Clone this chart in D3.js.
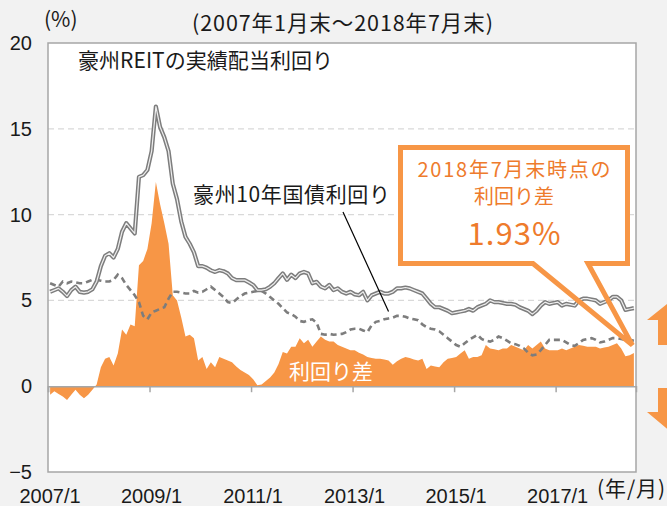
<!DOCTYPE html>
<html>
<head>
<meta charset="utf-8">
<script src="https://cdn.jsdelivr.net/npm/d3@7"></script>
<style>
  html, body { margin: 0; padding: 0; background: #f2f2f2; }
  svg { display: block; }
  .jp { font-family: "Noto Sans CJK JP", "Noto Sans", sans-serif; }
  .num { font-family: "Liberation Sans", Arial, sans-serif; }
</style>
</head>
<body>
<svg width="667" height="506"></svg>
<script>
// Monthly data, 2007/1 .. 2018/7 (month-end), in %
var nMonths = 139;

// Australian REIT realised dividend yield
var reitYield = [
  5.5, 5.6, 5.7, 5.5, 5.25, 5.6, 5.8, 5.5, 5.45, 5.5, 5.65, 6.1,
  7.0, 7.6, 7.75, 7.5, 8.0, 9.0, 9.5, 9.2, 8.9, 12.2, 12.3, 12.6,
  13.7, 16.3, 15.1, 14.5, 13.7, 11.8, 10.9, 9.6, 8.7, 8.3, 7.8, 7.0,
  7.0, 6.9, 6.75, 6.66, 6.76, 6.7, 6.57, 6.3, 6.18, 6.18, 6.18, 6.05,
  5.9, 5.6, 5.6, 5.65, 5.8, 6.0, 6.3, 6.57, 6.2, 6.5, 6.3, 6.57,
  6.66, 6.57, 6.0, 6.08, 5.8, 5.7, 5.9, 5.6, 5.7, 5.5, 5.4, 5.5,
  5.35, 5.3, 5.5, 5.0, 5.3, 5.4, 5.5, 5.4, 5.4, 5.5, 5.7, 5.7,
  5.75, 5.7, 5.6, 5.5, 5.4, 5.1, 4.8, 4.6, 4.6, 4.5, 4.4, 4.25,
  4.3, 4.35, 4.4, 4.5, 4.4, 4.6, 4.7, 4.8, 5.0, 4.9, 4.9, 4.85,
  4.8, 4.8, 4.75, 4.6, 4.5, 4.4, 4.2, 4.4, 4.7, 4.9, 4.8, 4.85,
  4.9, 4.7, 4.8, 4.75, 4.7, 5.0, 5.1, 5.1, 5.05, 5.0, 4.8, 4.9,
  5.0, 5.2, 5.2, 5.0, 4.45, 4.5, 4.55
];

// Australian 10-year government bond yield
var bondYield = [
  6.0, 5.9, 5.8, 6.1, 6.0, 6.1, 6.05, 6.0, 6.0, 6.1, 6.2, 6.2,
  6.15, 6.1, 6.1, 6.2, 6.5, 6.3, 5.9, 5.6, 5.3, 4.9, 4.1, 3.9,
  4.3, 4.4, 4.5, 4.6, 5.1, 5.5, 5.5, 5.45, 5.4, 5.4, 5.55, 5.45,
  5.5, 5.65, 5.8, 5.6, 5.4, 5.2, 4.9, 4.85, 5.05, 5.25, 5.4, 5.45,
  5.5, 5.55, 5.55, 5.4, 5.2, 5.0, 4.8, 4.55, 4.3, 4.2, 4.05, 3.8,
  3.75, 3.85, 3.9, 3.7, 3.05, 3.0, 3.05, 3.0, 3.02, 3.05, 3.15, 3.3,
  3.35, 3.35, 3.25, 3.15, 3.55, 3.75, 3.8, 3.9, 3.95, 4.0, 4.1, 4.1,
  4.05, 3.95, 3.9, 3.85, 3.6, 3.45, 3.35, 3.3, 3.2, 3.0, 2.8, 2.6,
  2.4, 2.3, 2.5, 2.7, 2.85, 3.0, 2.75, 2.65, 2.6, 2.7, 2.9, 2.8,
  2.65, 2.5, 2.45, 2.35, 2.2, 1.95, 1.8, 1.85, 2.1, 2.4, 2.7, 2.7,
  2.7, 2.7, 2.55, 2.4, 2.35, 2.5, 2.7, 2.75, 2.8, 2.7, 2.55, 2.6,
  2.7, 2.8, 2.8, 2.75, 2.7, 2.7, 2.65
];

// Yield spread (orange area)
var yieldSpread = [
  -0.5, -0.3, -0.45, -0.6, -0.8, -0.5, -0.2, -0.5, -0.7, -0.5, -0.2, 0.1,
  1.1, 1.6, 1.7, 1.2, 1.9, 3.3, 3.0, 3.6, 3.5, 7.05, 7.3, 8.0,
  9.5, 11.9, 10.6, 9.5, 8.3, 5.3, 5.0, 4.0, 2.9, 3.0, 2.8, 1.5,
  1.7, 1.0, 1.4, 1.1, 1.7, 1.6, 1.5, 1.4, 1.15, 0.95, 0.8, 0.65,
  0.4, 0.06, 0.1, 0.3, 0.5, 0.8, 1.3, 2.0, 1.9, 2.3, 2.3, 2.8,
  2.5, 2.7, 2.3, 2.6, 2.9, 2.7, 2.6, 2.6, 2.4, 2.3, 2.2, 2.1,
  2.1, 1.95, 1.85, 1.7, 1.65, 1.6, 1.6, 1.55, 1.5, 1.25, 1.45, 1.6,
  1.7, 1.65, 1.55, 1.5, 1.6, 1.0, 1.2, 1.15, 1.1, 1.4, 1.6, 1.65,
  1.7, 1.9, 2.1, 1.6, 1.7, 1.7, 1.8, 2.4, 2.2, 2.15, 2.1, 2.2,
  2.2, 2.4, 2.3, 2.2, 2.1, 2.4, 2.2, 2.4, 2.6, 2.2, 2.1, 2.1,
  2.1, 2.2, 2.1, 2.2, 2.3, 2.4, 2.35, 2.3, 2.3, 2.3, 2.2, 2.25,
  2.3, 2.4, 2.5, 2.2, 1.75, 1.8, 1.93
];

var yTicks = [-5, 0, 5, 10, 15, 20];
var gridTicks = [5, 10, 15];
var xTickMonths = [0, 24, 48, 72, 96, 120];
var xTickLabels = ["2007/1", "2009/1", "2011/1", "2013/1", "2015/1", "2017/1"];

var latestSpreadText = "1.93%";

/****** LAYOUT ******/
var svg = d3.select("svg");
var plot = {left: 48, right: 636, top: 43, bottom: 472};
var orange = "#f79646", orangeText = "#ee7b2c", lineGray = "#7d7d7d";

var x = d3.scaleLinear().domain([0, nMonths]).range([plot.left, plot.right]);
var y = d3.scaleLinear().domain([-5, 20]).range([plot.bottom, plot.top]);
function xc(i) { return x(i + 0.5); }

// plot background
svg.append("rect")
    .attr("x", plot.left).attr("y", plot.top)
    .attr("width", plot.right - plot.left)
    .attr("height", plot.bottom - plot.top)
    .attr("fill", "#fff");

// gridlines
svg.append("g").selectAll("line")
    .data(gridTicks).enter().append("line")
    .attr("x1", plot.left).attr("x2", plot.right)
    .attr("y1", function(d) { return y(d); })
    .attr("y2", function(d) { return y(d); })
    .attr("stroke", "#d9d9d9")
    .attr("stroke-width", 1.2)
    .attr("stroke-dasharray", "6,4");

// spread area
var area = d3.area()
    .x(function(d, i) { return xc(i); })
    .y0(y(0))
    .y1(function(d) { return y(d); });

svg.append("path")
    .datum(yieldSpread)
    .attr("d", area)
    .attr("fill", orange);

// zero axis with ticks
var xAxis = d3.axisBottom(x)
    .tickValues(xTickMonths)
    .tickSize(6)
    .tickFormat("");
var gx = svg.append("g")
    .attr("transform", "translate(0," + y(0) + ")")
    .call(xAxis);
gx.select(".domain").attr("stroke", "#a6a6a6").attr("stroke-width", 1.5);
gx.selectAll(".tick line").attr("stroke", "#a6a6a6").attr("stroke-width", 1.5);

// bond line (dashed)
var line = d3.line()
    .x(function(d, i) { return xc(i); })
    .y(function(d) { return y(d); });

svg.append("path")
    .datum(bondYield)
    .attr("d", line)
    .attr("fill", "none")
    .attr("stroke", lineGray)
    .attr("stroke-width", 2.6)
    .attr("stroke-dasharray", "6,4");

// REIT line (double)
svg.append("path")
    .datum(reitYield)
    .attr("d", line)
    .attr("fill", "none")
    .attr("stroke", lineGray)
    .attr("stroke-width", 4.2)
    .attr("stroke-linejoin", "round");
svg.append("path")
    .datum(reitYield)
    .attr("d", line)
    .attr("fill", "none")
    .attr("stroke", "#eeeeee")
    .attr("stroke-width", 1.2)
    .attr("stroke-linejoin", "round");

// border
svg.append("rect")
    .attr("x", plot.left).attr("y", plot.top)
    .attr("width", plot.right - plot.left)
    .attr("height", plot.bottom - plot.top)
    .attr("fill", "none")
    .attr("stroke", "#a6a6a6")
    .attr("stroke-width", 1.5);

// y axis labels
var yAxis = d3.axisLeft(y).tickValues(yTicks).tickSize(0).tickPadding(16);
var gy = svg.append("g")
    .attr("transform", "translate(" + plot.left + ",0)")
    .call(yAxis);
gy.select(".domain").remove();
gy.selectAll("text")
    .attr("class", "num")
    .attr("font-size", 20)
    .attr("fill", "#1a1a1a");

// x labels at the bottom
svg.append("g").selectAll("text")
    .data(xTickMonths).enter().append("text")
    .attr("class", "num")
    .attr("x", function(d) { return x(d) + 2; })
    .attr("y", 503)
    .attr("text-anchor", "middle")
    .attr("font-size", 20)
    .attr("fill", "#1a1a1a")
    .text(function(d, i) { return xTickLabels[i]; });

// texts
function label(txt, px, py, size, anchor, color, len) {
    var t = svg.append("text")
        .attr("class", "jp")
        .attr("x", px).attr("y", py)
        .attr("font-size", size)
        .attr("text-anchor", anchor || "start")
        .attr("fill", color || "#1a1a1a")
        .text(txt);
    if (len) t.attr("textLength", len).attr("lengthAdjust", "spacing");
    return t;
}
label("(%)", 44, 27, 21);
label("(2007年1月末～2018年7月末)", 192, 31, 21.5, "start", null, 301);
label("豪州REITの実績配当利回り", 78, 68, 21, "start", null, 255);
label("豪州10年国債利回り", 193, 202, 21, "start", null, 197);
label("利回り差", 331, 379, 21, "middle", "#fff");
label("(年/月)", 597, 496, 21, "start", null, 68);

// leader line to bond series
svg.append("line")
    .attr("x1", 343).attr("y1", 212)
    .attr("x2", xc(80)).attr("y2", y(bondYield[80]) - 7)
    .attr("stroke", "#000")
    .attr("stroke-width", 1.2);

// callout
var box = {l: 400.5, r: 627.5, t: 147.5, b: 263.5};
var tip = [xc(nMonths - 1) - 1.5, y(yieldSpread[nMonths - 1]) - 8];
svg.append("rect")
    .attr("x", box.l).attr("y", box.t)
    .attr("width", box.r - box.l).attr("height", box.b - box.t)
    .attr("fill", "#fff");
svg.append("path")
    .attr("d", "M" + box.l + "," + box.t + "H" + box.r + "V" + box.b +
        "H588L" + tip[0] + "," + tip[1] + "L533," + box.b +
        "H" + box.l + "Z")
    .attr("fill", "none")
    .attr("stroke", orange)
    .attr("stroke-width", 5)
    .attr("stroke-linejoin", "miter");
label("2018年7月末時点の", 514, 177, 20, "middle", orangeText, 193);
label("利回り差", 514, 204, 20, "middle", orangeText);
label(latestSpreadText, 514, 245, 31, "middle", orangeText, 93);

// arrows at the right edge
var arrowUp = [[672, 300], [697, 320], [684, 320], [684, 345], [658, 345], [658, 320], [647, 320]];
var arrowDown = [[658, 388], [684, 388], [684, 412], [697, 412], [672, 433], [647, 412], [658, 412]];
[arrowUp, arrowDown].forEach(function(pts) {
    svg.append("path")
        .attr("d", d3.line()(pts) + "Z")
        .attr("fill", orange);
});
</script>
</body>
</html>
